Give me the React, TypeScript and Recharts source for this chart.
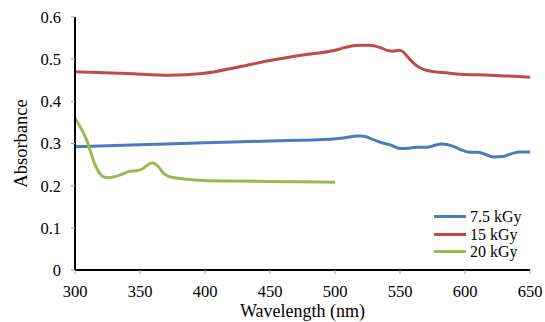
import { LineChart, Line, XAxis, YAxis } from "recharts";

const FONT = "Times New Roman, Liberation Serif, Times, serif";

const BLUE = "#4a7ebb";
const RED = "#be4b48";
const GREEN = "#98b954";

const xTicks = [300, 350, 400, 450, 500, 550, 600, 650];
const yTicks = [0, 0.1, 0.2, 0.3, 0.4, 0.5, 0.6];

// 7.5 kGy
const wl75 = [300, 350, 400, 450, 496, 506, 512, 516, 520, 524, 528, 535, 543, 550, 557, 563, 571, 577, 582, 587, 591, 597, 602, 610, 616, 622, 629, 636, 642, 650];
const abs75 = [0.292, 0.297, 0.302, 0.306, 0.31, 0.313, 0.316, 0.318, 0.318, 0.316, 0.311, 0.303, 0.296, 0.288, 0.289, 0.291, 0.291, 0.296, 0.299, 0.297, 0.293, 0.285, 0.28, 0.279, 0.274, 0.268, 0.269, 0.276, 0.28, 0.28];

// 15 kGy
const wl15 = [300, 340, 373, 398, 425, 450, 475, 500, 508, 514, 520, 526, 531, 536, 541, 545, 549, 552, 556, 560, 564, 568, 573, 587, 596, 620, 650];
const abs15 = [0.47, 0.466, 0.462, 0.466, 0.481, 0.497, 0.51, 0.521, 0.528, 0.532, 0.533, 0.533, 0.531, 0.526, 0.52, 0.519, 0.521, 0.518, 0.505, 0.492, 0.482, 0.476, 0.472, 0.467, 0.464, 0.462, 0.457];

// 20 kGy
const wl20 = [300, 309, 315, 319, 322, 326, 330, 336, 342, 348, 352, 355, 358, 360, 362, 365, 368, 372, 378, 386, 395, 420, 450, 475, 500];
const abs20 = [0.36, 0.308, 0.253, 0.229, 0.221, 0.219, 0.221, 0.227, 0.234, 0.236, 0.24, 0.247, 0.253, 0.254, 0.251, 0.242, 0.23, 0.222, 0.218, 0.215, 0.213, 0.211, 0.21, 0.209, 0.208];

const toRows = (xs: number[], ys: number[]) => xs.map((wl, i) => ({ wl, v: ys[i] }));

const series = [
  { name: "7.5 kGy", color: BLUE, data: toRows(wl75, abs75) },
  { name: "15 kGy", color: RED, data: toRows(wl15, abs15) },
  { name: "20 kGy", color: GREEN, data: toRows(wl20, abs20) },
];

const tickStyle = { fontSize: 16.5, fontFamily: FONT, fill: "#000" };

function LegendBox() {
  return (
    <div style={{ position: "absolute", left: 434, top: 208, fontFamily: FONT, fontSize: 16, color: "#000" }}>
      {series.map((s) => (
        <div key={s.name} style={{ display: "flex", alignItems: "center", height: 17.5 }}>
          <div style={{ width: 32, height: 3, background: s.color, marginRight: 4 }} />
          <span style={{ lineHeight: "17px" }}>{s.name}</span>
        </div>
      ))}
    </div>
  );
}

export default function App() {
  return (
    <div style={{ position: "absolute", left: 0, top: 0, width: 545, height: 322, background: "#fff", overflow: "hidden" }}>
      <LineChart width={545} height={322} margin={{ top: 17, right: 15, bottom: 0, left: 0 }} style={{ fontFamily: FONT }}>
        <XAxis
          type="number"
          dataKey="wl"
          domain={[300, 650]}
          ticks={xTicks}
          allowDuplicatedCategory={false}
          height={52}
          tick={tickStyle}
          tickSize={4}
          tickMargin={11}
          tickLine={{ stroke: "#999" }}
          axisLine={{ stroke: "#000", strokeWidth: 2 }}
          label={{
            value: "Wavelength (nm)",
            position: "insideBottom",
            offset: 5,
            style: { fontSize: 18, fontFamily: FONT, fill: "#000" },
          }}
        />
        <YAxis
          type="number"
          domain={[0, 0.6]}
          ticks={yTicks}
          width={75}
          tick={tickStyle}
          tickSize={4}
          tickMargin={10}
          tickLine={{ stroke: "#999" }}
          axisLine={{ stroke: "#000", strokeWidth: 2 }}
          label={{
            value: "Absorbance",
            angle: -90,
            position: "insideLeft",
            offset: 20,
            style: { fontSize: 18.5, fontFamily: FONT, fill: "#000", textAnchor: "middle" },
          }}
        />
        {series.map((s) => (
          <Line
            key={s.name}
            data={s.data}
            dataKey="v"
            name={s.name}
            type="monotone"
            stroke={s.color}
            strokeWidth={3}
            dot={false}
            activeDot={false}
            isAnimationActive={false}
          />
        ))}
      </LineChart>
      <LegendBox />
    </div>
  );
}
